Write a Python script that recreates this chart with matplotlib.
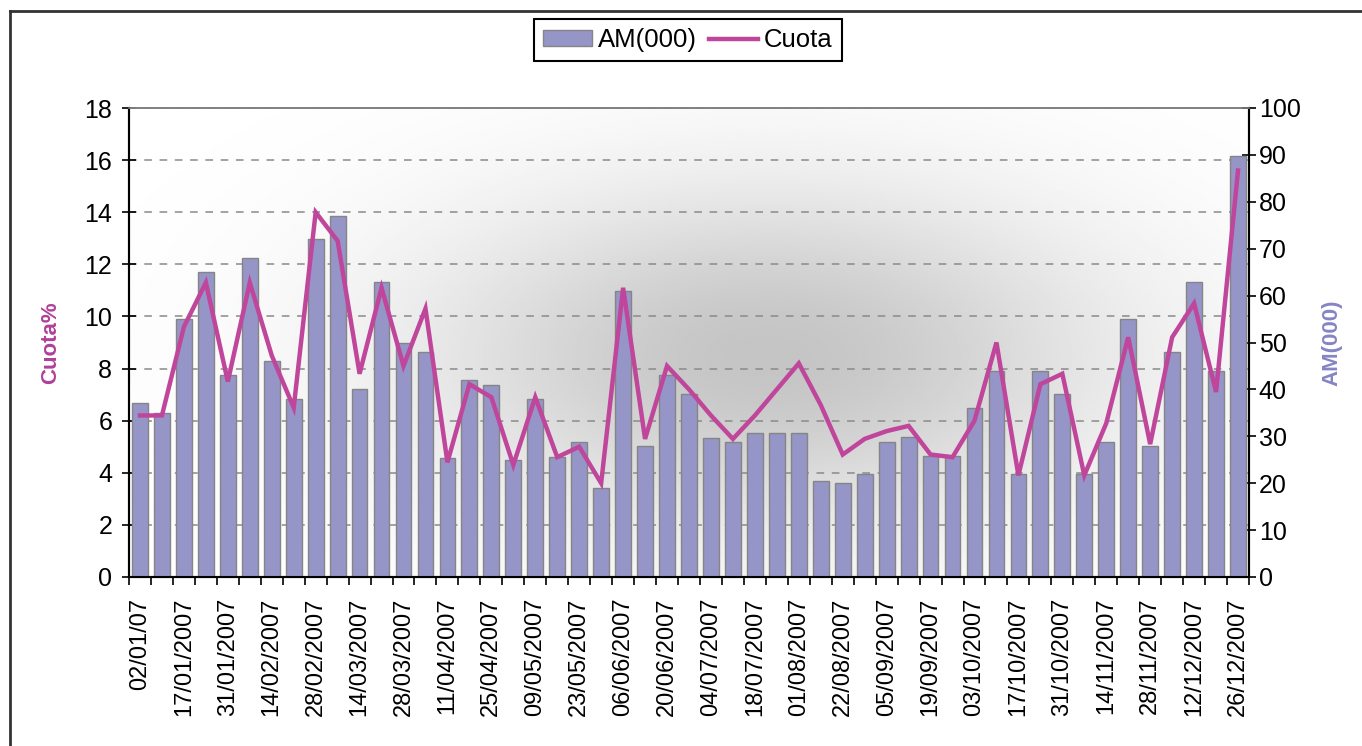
import numpy as np
import matplotlib
matplotlib.use('Agg')
import matplotlib.pyplot as plt
from matplotlib.lines import Line2D

# ---------------- data ----------------
weeks = ["02/01/07", "09/01/2007", "17/01/2007", "24/01/2007", "31/01/2007", "07/02/2007",
         "14/02/2007", "21/02/2007", "28/02/2007", "07/03/2007", "14/03/2007", "21/03/2007",
         "28/03/2007", "04/04/2007", "11/04/2007", "18/04/2007", "25/04/2007", "02/05/2007",
         "09/05/2007", "16/05/2007", "23/05/2007", "30/05/2007", "06/06/2007", "13/06/2007",
         "20/06/2007", "27/06/2007", "04/07/2007", "11/07/2007", "18/07/2007", "25/07/2007",
         "01/08/2007", "15/08/2007", "22/08/2007", "29/08/2007", "05/09/2007", "12/09/2007",
         "19/09/2007", "26/09/2007", "03/10/2007", "10/10/2007", "17/10/2007", "24/10/2007",
         "31/10/2007", "07/11/2007", "14/11/2007", "21/11/2007", "28/11/2007", "05/12/2007",
         "12/12/2007", "19/12/2007", "26/12/2007"]

am_000 = [37, 35, 55, 65, 43, 68, 46, 38, 72, 77, 40, 63, 50, 48, 25.4, 42, 41, 25, 38, 25.6,
          28.8, 19, 61, 28, 43, 39, 29.6, 28.8, 30.7, 30.7, 30.7, 20.5, 20, 22, 28.8, 29.8,
          25.7, 25.7, 36, 44, 22, 44, 39, 22, 28.8, 55, 28, 48, 63, 44, 89.7]

cuota = [6.2, 6.2, 9.6, 11.3, 7.5, 11.3, 8.5, 6.5, 14.0, 12.9, 7.8, 11.1, 8.1, 10.3, 4.4,
         7.4, 6.9, 4.3, 6.9, 4.6, 5.0, 3.6, 11.1, 5.3, 8.1, 7.2, 6.2, 5.3, 6.2, 7.2, 8.2,
         6.6, 4.7, 5.3, 5.6, 5.8, 4.7, 4.6, 6.0, 9.0, 3.9, 7.4, 7.8, 3.9, 5.9, 9.2, 5.1,
         9.2, 10.5, 7.1, 15.6]

left_ticks = list(range(0, 19, 2))
right_ticks = list(range(0, 101, 10))

# ---------------- style ----------------
plt.rcParams['font.family'] = ['Liberation Sans', 'DejaVu Sans']

W, H = 1362, 746
fig = plt.figure(figsize=(W / 100, H / 100), dpi=100)
fig.patch.set_facecolor('white')

ax = fig.add_axes([129 / W, 1 - 577 / H, (1249 - 129) / W, (577 - 108) / H])
ax2 = ax.twinx()

x = np.arange(len(weeks))

# gradient background of plot area
gx, gy = np.meshgrid(np.linspace(0, 1, 500), np.linspace(0, 1, 250))
shade = np.exp(-((gx - 0.57) / 0.31) ** 2 - ((gy - 0.47) / 0.36) ** 2)
bg = 1 - 0.23 * shade
ax.imshow(bg, cmap='gray', vmin=0, vmax=1, extent=[0, 1, 0, 1], transform=ax.transAxes,
          origin='lower', aspect='auto', zorder=0, interpolation='bilinear')

# gridlines (left scale)
ax.set_yticks(left_ticks)
ax.yaxis.grid(True, color='#8a8a8a', linestyle=(0, (5, 5)), linewidth=1.1)
ax.set_axisbelow(True)

# bars (right scale)
bars = ax2.bar(x, am_000, width=0.72, color='#9595C8', edgecolor='#858585',
               linewidth=1.0, zorder=2, label='AM(000)')
# line (left scale)
line, = ax2.plot(x, cuota, color='#C0469C', lw=3.2, transform=ax.transData,
                 zorder=3, label='Cuota', solid_joinstyle='miter')

ax.set_xlim(-0.5, len(weeks) - 0.5)
ax.set_ylim(0, 18)
ax2.set_ylim(0, 100)
ax2.set_yticks(right_ticks)

# x axis
ax.set_xticks(x[::2])
ax.set_xticklabels(weeks[::2], rotation=90, fontsize=17)
ax.tick_params(axis='x', which='major', length=0, pad=15)
ax.set_xticks(np.arange(-0.5, len(weeks), 1), minor=True)
ax.tick_params(axis='x', which='minor', direction='out', length=6, width=1.2)

# y axes ticks
ax.tick_params(axis='y', direction='inout', length=10, width=1.2, labelsize=18, pad=7)
ax2.tick_params(axis='y', direction='inout', length=10, width=1.2, labelsize=18, pad=2)

for a in (ax, ax2):
    for s in ('left', 'right', 'bottom'):
        a.spines[s].set_color('black')
        a.spines[s].set_linewidth(1.5)
    a.spines['top'].set_color('#808080')
    a.spines['top'].set_linewidth(1.2)
ax2.patch.set_visible(False)

# axis titles
ax.set_ylabel('Cuota%', color='#B0409A', fontweight='bold', fontsize=16,
              va='center', ha='center')
ax.yaxis.set_label_coords((51 - 129) / 1120, 0.5)
ax2.set_ylabel('AM(000)', color='#8585C5', fontweight='bold', fontsize=16,
               rotation=90, va='center', ha='center')
ax2.yaxis.set_label_coords((1332 - 129) / 1120, 0.5)

# legend
leg = fig.legend(handles=[bars, line], labels=['AM(000)', 'Cuota'], loc='center',
                 bbox_to_anchor=(688 / W, 1 - 40 / H), ncol=2, frameon=True,
                 fancybox=False, edgecolor='black', fontsize=18.5, handlelength=1.9,
                 handleheight=0.56, handletextpad=0.25, columnspacing=0.45,
                 borderpad=0.35, framealpha=1)
leg.get_frame().set_linewidth(1.5)

# outer chart frame (left and top visible)
fig.add_artist(Line2D([10 / W, 10 / W], [0, 1 - 10.5 / H], transform=fig.transFigure,
                      color='#333333', lw=2))
fig.add_artist(Line2D([10 / W, 1], [1 - 10.5 / H, 1 - 10.5 / H], transform=fig.transFigure,
                      color='#333333', lw=2))

fig.savefig('out.png', dpi=100)
